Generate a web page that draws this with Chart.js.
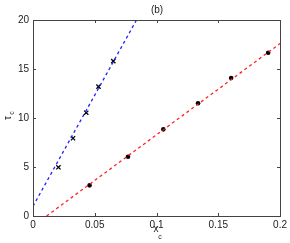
<!DOCTYPE html>
<html lang="en">
<head>
<meta charset="UTF-8">
<title>tau_c vs x_c</title>
<script src="https://cdn.jsdelivr.net/npm/chart.js"></script>
<style>
  html, body { margin: 0; padding: 0; background: #fff; }
  #wrap { width: 290px; height: 243px; position: relative; }
</style>
</head>
<body>
<div id="wrap"><canvas id="chart"></canvas></div>
<script>
// crosses (blue fit)
const crossX = [0.0206, 0.0324, 0.0431, 0.053, 0.065];
const crossY = [4.97, 7.93, 10.54, 13.2, 15.8];
// dots (red fit)
const dotX = [0.0458, 0.0769, 0.1055, 0.1336, 0.1604, 0.1904];
const dotY = [3.13, 6.05, 8.84, 11.5, 14.08, 16.66];
// fitted lines, end points
const blueLineX = [0, 0.0838];
const blueLineY = [1.0, 20];
const redLineX = [0.011, 0.2];
const redLineY = [0, 17.6];

const xTicks = [0, 0.05, 0.1, 0.15, 0.2];
const yTicks = [0, 5, 10, 15, 20];

const pts = (xs, ys) => xs.map((x, i) => ({x: x, y: ys[i]}));
const FONT = 'Liberation Sans, Arial, sans-serif';

// inner tick marks on all four sides, plus axis labels with subscripts
const decor = {
    id: 'decor',
    afterDraw(chart) {
        const ctx = chart.ctx;
        const a = chart.chartArea;
        const xs = chart.scales.x, ys = chart.scales.y;
        ctx.save();
        ctx.strokeStyle = '#444';
        ctx.lineWidth = 1;
        ctx.strokeRect(Math.round(a.left) + 0.5, Math.round(a.top) + 0.5,
            Math.round(a.right - a.left), Math.round(a.bottom - a.top));
        ctx.beginPath();
        xTicks.forEach(v => {
            const p = Math.round(xs.getPixelForValue(v)) + 0.5;
            ctx.moveTo(p, a.bottom); ctx.lineTo(p, a.bottom - 3);
            ctx.moveTo(p, a.top); ctx.lineTo(p, a.top + 3);
        });
        yTicks.forEach(v => {
            const p = Math.round(ys.getPixelForValue(v)) + 0.5;
            ctx.moveTo(a.left, p); ctx.lineTo(a.left + 3, p);
            ctx.moveTo(a.right, p); ctx.lineTo(a.right - 3, p);
        });
        ctx.stroke();

        ctx.fillStyle = '#222';
        ctx.textAlign = 'center';
        ctx.textBaseline = 'middle';
        ctx.font = '10px ' + FONT;
        ctx.fillText('(b)', 157, 10);
        ctx.fillText('x', 156, 229);
        ctx.font = '7px ' + FONT;
        ctx.fillText('c', 160, 237);

        ctx.translate(8, 118);
        ctx.rotate(-Math.PI / 2);
        ctx.font = '10px ' + FONT;
        ctx.fillText('\u03c4', 0, 0);
        ctx.font = '7px ' + FONT;
        ctx.fillText('c', 5, 4);
        ctx.restore();
    }
};

new Chart(document.getElementById('chart'), {
    type: 'scatter',
    data: {
        datasets: [
            {
                data: pts(blueLineX, blueLineY),
                showLine: true,
                borderColor: '#1f1fff',
                borderWidth: 1.3,
                borderDash: [3, 3],
                pointRadius: 0
            },
            {
                data: pts(redLineX, redLineY),
                showLine: true,
                borderColor: '#ff2020',
                borderWidth: 1.3,
                borderDash: [3, 3],
                pointRadius: 0
            },
            {
                data: pts(crossX, crossY),
                pointStyle: 'crossRot',
                pointRadius: 3,
                borderColor: '#000',
                borderWidth: 1.3
            },
            {
                data: pts(dotX, dotY),
                pointStyle: 'circle',
                pointRadius: 2.3,
                backgroundColor: '#000',
                borderColor: '#000',
                borderWidth: 0
            }
        ]
    },
    options: {
        responsive: true,
        maintainAspectRatio: false,
        animation: false,
        layout: { padding: { left: 0, right: 8, top: 20, bottom: 0 } },
        plugins: { legend: { display: false }, tooltip: { enabled: false } },
        scales: {
            x: {
                type: 'linear',
                min: 0, max: 0.2,
                afterBuildTicks: s => { s.ticks = xTicks.map(v => ({value: v})); },
                afterFit: s => { s.height = 27; },
                grid: { display: false, drawTicks: false },
                border: { display: false },
                ticks: {
                    color: '#222',
                    font: { family: FONT, size: 10 },
                    padding: 3,
                    maxRotation: 0,
                    callback: v => String(v)
                }
            },
            y: {
                type: 'linear',
                min: 0, max: 20,
                afterBuildTicks: s => { s.ticks = yTicks.map(v => ({value: v})); },
                afterFit: s => { s.width = 33; },
                grid: { display: false, drawTicks: false },
                border: { display: false },
                ticks: {
                    color: '#222',
                    font: { family: FONT, size: 10 },
                    padding: 4,
                    callback: v => String(v)
                }
            }
        }
    },
    plugins: [decor]
});
</script>
</body>
</html>
